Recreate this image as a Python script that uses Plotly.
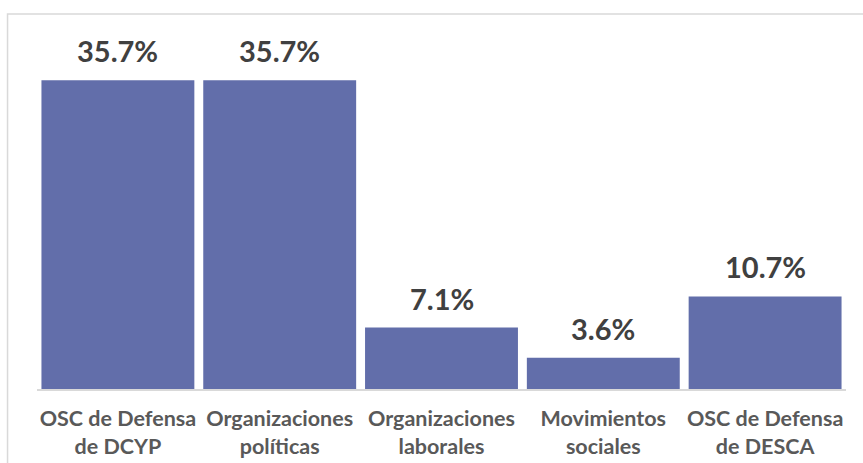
import plotly.graph_objects as go

categories = ["OSC de Defensa<br>de DCYP", "Organizaciones<br>políticas", "Organizaciones<br>laborales",
              "Movimientos<br>sociales", "OSC de Defensa<br>de DESCA"]
values = [35.7, 35.7, 7.1, 3.6, 10.7]
labels = [f"{v:.1f}%" for v in values]

W, H = 863, 463
ml, mr, mt, mb = 36.5, 16.5, 43, 74
pw = W - ml - mr
ph = H - mt - mb

fig = go.Figure(go.Bar(
    x=categories, y=values,
    marker=dict(color="#626EAA", line=dict(width=0)),
    width=0.945,
))

for c, v, t in zip(categories, values, labels):
    fig.add_annotation(x=c, y=v, text=t, showarrow=False, yanchor="bottom", yshift=10,
                       font=dict(family="Lato", size=29, color="#404040", weight="bold"))

fig.update_layout(
    width=W, height=H,
    margin=dict(l=ml, r=mr, t=mt, b=mb, autoexpand=False),
    paper_bgcolor="white", plot_bgcolor="white",
    showlegend=False,
    xaxis=dict(showline=True, linecolor="#D9D9D9", linewidth=1.5, ticks="",
               tickfont=dict(family="Lato", size=21.5, color="#595959", weight="bold"),
               ticklabelstandoff=9, showgrid=False),
    yaxis=dict(range=[0, 40], visible=False, showgrid=False),
    shapes=[dict(type="rect", xref="paper", yref="paper",
                 x0=(7 - ml) / pw, x1=(W + 20 - ml) / pw,
                 y0=-(H + 20 - mt - ph) / ph, y1=(H - 14 - mb) / ph,
                 line=dict(color="#D9D9D9", width=1.5), fillcolor="rgba(0,0,0,0)", layer="below")],
)

fig.write_html("out.html")
